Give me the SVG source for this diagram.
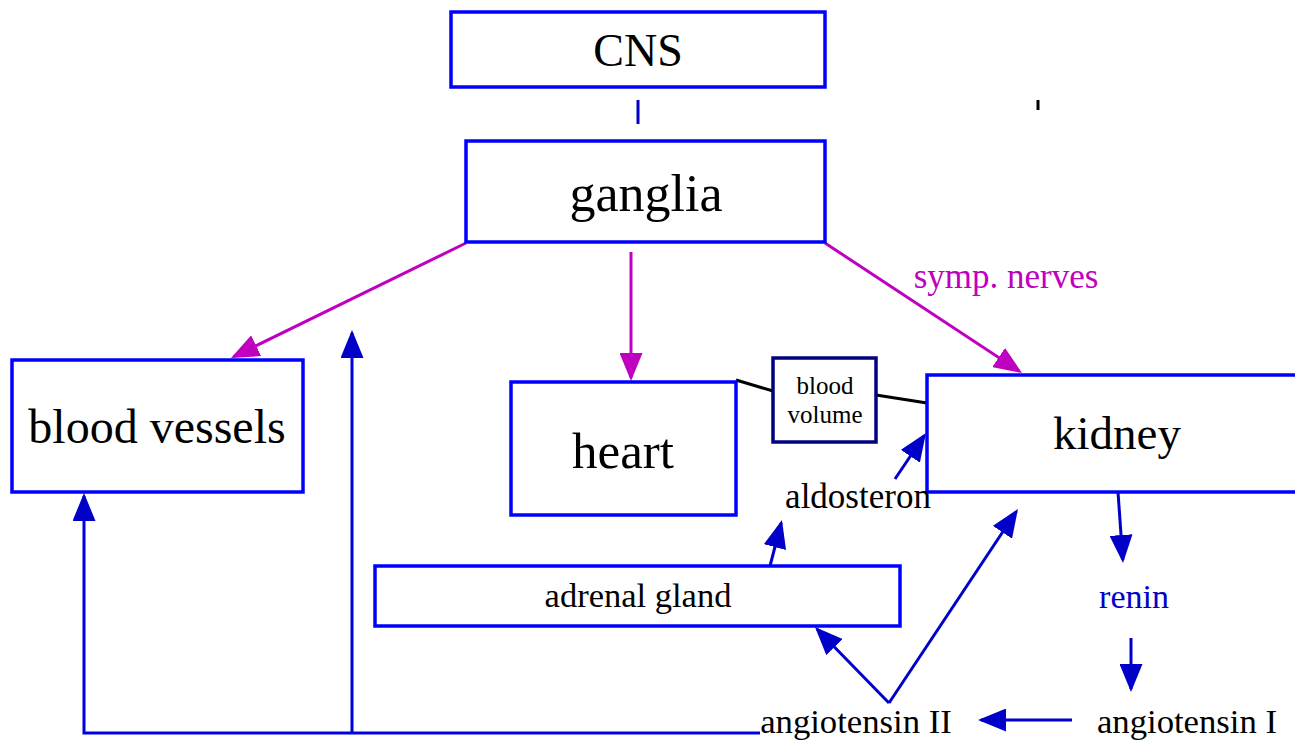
<svg xmlns="http://www.w3.org/2000/svg" width="1295" height="743" viewBox="0 0 1295 743">
<style>
  .box { fill: #ffffff; stroke: #0000ff; stroke-width: 3.5; }
  .navy { fill: #ffffff; stroke: #000080; stroke-width: 3.5; }
  text { font-family: "Liberation Serif", "Times New Roman", serif; fill: #000000; text-anchor: middle; }
  .blue { stroke: #0000c8; stroke-width: 3; fill: none; }
  .mag { stroke: #c000c0; stroke-width: 3; fill: none; }
  .blk { stroke: #000000; stroke-width: 3; fill: none; }
</style>
<defs>
  <marker id="ab" markerUnits="userSpaceOnUse" markerWidth="28" markerHeight="23" refX="25" refY="11.5" orient="auto">
    <path d="M0,0 L28,11.5 L0,23 z" fill="#0000c8"/>
  </marker>
  <marker id="am" markerUnits="userSpaceOnUse" markerWidth="28" markerHeight="23" refX="25" refY="11.5" orient="auto">
    <path d="M0,0 L28,11.5 L0,23 z" fill="#c000c0"/>
  </marker>
</defs>
<rect width="1295" height="743" fill="#ffffff"/>

<g id="connectors">
  <line class="blue" x1="638" y1="100" x2="638" y2="124"/>
  <line class="blk" x1="1038" y1="100" x2="1038" y2="110"/>
  <line class="mag" x1="466" y1="243" x2="233.7" y2="356.7" marker-end="url(#am)"/>
  <line class="mag" x1="631" y1="252" x2="631" y2="378" marker-end="url(#am)"/>
  <line class="mag" x1="825" y1="243" x2="1019.5" y2="371.3" marker-end="url(#am)"/>
  <line class="blk" x1="736" y1="380" x2="773" y2="391"/>
  <line class="blk" x1="876" y1="395" x2="927" y2="403"/>
  <line class="blue" x1="1118" y1="492" x2="1122.8" y2="560" marker-end="url(#ab)"/>
  <line class="blue" x1="1131" y1="638" x2="1131" y2="689" marker-end="url(#ab)"/>
  <line class="blue" x1="1072" y1="720" x2="981" y2="720" marker-end="url(#ab)"/>
  <line class="blue" x1="889" y1="703" x2="817.1" y2="629.2" marker-end="url(#ab)"/>
  <line class="blue" x1="889" y1="703" x2="1016.3" y2="511.5" marker-end="url(#ab)"/>
  <line class="blue" x1="770" y1="566" x2="781.2" y2="522.9" marker-end="url(#ab)"/>
  <line class="blue" x1="895" y1="479" x2="924.3" y2="435.5" marker-end="url(#ab)"/>
  <path class="blue" d="M760,733 H84 V496" marker-end="url(#ab)" style="stroke:#0000e0"/>
  <path class="blue" d="M352,733 V333" marker-end="url(#ab)" style="stroke:#0000e0"/>
</g>

<g id="node-cns">
  <rect class="box" x="451" y="12" width="374" height="75"/>
  <text x="638" y="66" font-size="46">CNS</text>
</g>
<g id="node-ganglia">
  <rect class="box" x="466" y="141" width="359" height="101"/>
  <text x="646" y="211" font-size="52">ganglia</text>
</g>
<g id="node-blood-vessels">
  <rect class="box" x="12" y="360" width="291" height="132"/>
  <text x="157" y="443" font-size="48">blood vessels</text>
</g>
<g id="node-heart">
  <rect class="box" x="511" y="382" width="225" height="133"/>
  <text x="623" y="468" font-size="51">heart</text>
</g>
<g id="node-blood-volume">
  <rect class="navy" x="773" y="358" width="103" height="84"/>
  <text x="825" y="394" font-size="25">blood</text>
  <text x="825" y="423" font-size="25">volume</text>
</g>
<g id="node-kidney">
  <rect class="box" x="927" y="375" width="380" height="117"/>
  <text x="1117" y="449" font-size="47">kidney</text>
</g>
<g id="node-aldosteron">
  <text x="858" y="508" font-size="35">aldosteron</text>
</g>
<g id="node-adrenal-gland">
  <rect class="box" x="375" y="566" width="525" height="60"/>
  <text x="638" y="607" font-size="34.5">adrenal gland</text>
</g>
<g id="node-renin">
  <text x="1134" y="608" font-size="34" style="fill:#0000c8">renin</text>
</g>
<g id="node-angiotensin-1">
  <text x="1187" y="733" font-size="34.7">angiotensin I</text>
</g>
<g id="node-angiotensin-2">
  <text x="856" y="733" font-size="34.7">angiotensin II</text>
</g>
<g id="label-symp">
  <text x="1006" y="288" font-size="35" style="fill:#c000c0">symp. nerves</text>
</g>
</svg>
